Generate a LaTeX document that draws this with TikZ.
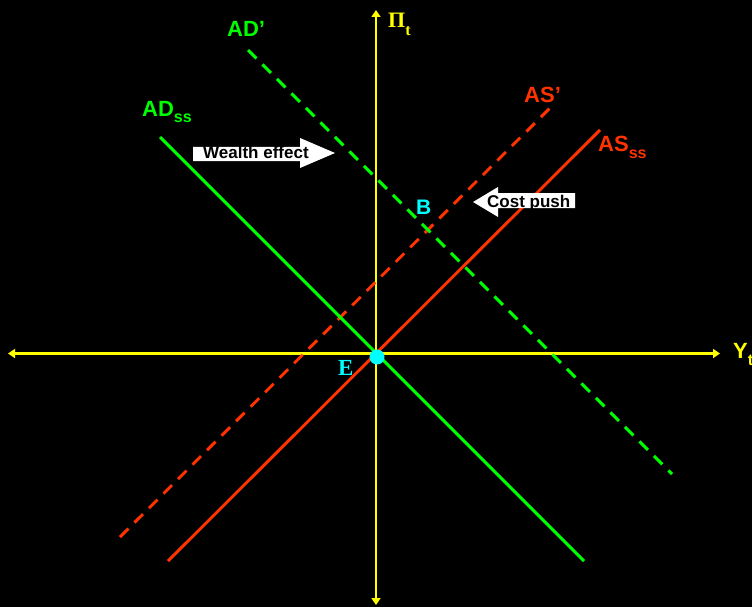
\documentclass[tikz,border=0pt]{standalone}
\usepackage{fontspec}
\setmainfont{Liberation Sans}
\newfontfamily\serifface{Liberation Serif}
\usepackage{xcolor}
\definecolor{adGreen}{HTML}{00FF00}
\definecolor{asRed}{HTML}{FF3300}
\definecolor{axisYellow}{HTML}{FFFF00}
\definecolor{eqCyan}{HTML}{00FFFF}
\usetikzlibrary{arrows.meta}
\tikzset{
    % Axes - yellow, small triangle tips at both ends
    axis/.style={
        draw=axisYellow,
        line width=2.5pt,
        {Triangle[length=7pt, width=9pt]}-{Triangle[length=7pt, width=9pt]},
    },
    % Demand curves
    curve ad/.style={draw=adGreen, line width=2.9pt},
    % Supply curves
    curve as/.style={draw=asRed, line width=2.9pt},
    % Shifted curves are dashed
    shifted/.style={dash pattern=on 12pt off 8.5pt},
    % Curve labels
    curve label/.style={
        font=\bfseries\fontsize{22}{22}\selectfont,
        inner sep=0pt,
        anchor=base west,
    },
    % Text inside the white block arrows
    shift label/.style={
        font=\bfseries\fontsize{17}{17}\selectfont,
        text=black,
        inner sep=0pt,
        anchor=base west,
    },
}
\newcommand{\lowsub}[2]{\raisebox{-#1pt}{\fontsize{16}{16}\selectfont #2}}

\begin{document}
\begin{tikzpicture}[x=1pt, y=-1pt]
    \fill[black] (0,0) rectangle (752,607);
    \useasboundingbox (0,0) rectangle (752,607);

    % end points of the curves
    \coordinate (adss-top) at (160,137);
    \coordinate (adss-bot) at (584,561);
    \coordinate (adnew-top) at (248,50);
    \coordinate (adnew-bot) at (672,474);
    \coordinate (asss-bot) at (168,561);
    \coordinate (asss-top) at (600,130);
    \coordinate (asnew-bot) at (120,537);
    \coordinate (asnew-top) at (550,108);
    \coordinate (xaxis-l) at (8,353.5);
    \coordinate (xaxis-r) at (720,353.5);
    \coordinate (yaxis-b) at (376,605);
    \coordinate (yaxis-t) at (376,10);

    \draw[axis] (xaxis-l) -- (xaxis-r);
    \draw[axis] (yaxis-b) -- (yaxis-t);

    \draw[curve as, shifted] (asnew-bot) -- (asnew-top);
    \draw[curve as] (asss-bot) -- (asss-top);
    \draw[curve ad, shifted] (adnew-top) -- (adnew-bot);
    \draw[curve ad] (adss-top) -- (adss-bot);

    \fill[eqCyan] (377,357) circle (7.5);

    \node (piLabel) [curve label, text=axisYellow] at (388,28)
        {\serifface\bfseries Π\lowsub{8}{t}};
    \node (yLabel) [curve label, text=axisYellow] at (733,358)
        {Y\lowsub{7}{t}};
    \node (adnewLabel) [curve label, text=adGreen] at (227,37) {AD’};
    \node (adssLabel) [curve label, text=adGreen] at (142,117)
        {AD\lowsub{6}{ss}};
    \node (asnewLabel) [curve label, text=asRed] at (524,103) {AS’};
    \node (asssLabel) [curve label, text=asRed] at (598,151)
        {AS\lowsub{7}{ss}};
    \node (bLabel) [curve label, text=eqCyan, font=\bfseries\fontsize{21}{21}\selectfont]
        at (416,214) {B};
    \node (eLabel) [curve label, text=eqCyan, font=\serifface\bfseries\fontsize{23}{23}\selectfont]
        at (338,375) {E};

    % block arrows for the shifts
    \fill[white] (193,147) -- (300,147) -- (300,138) -- (335,153)
        -- (300,168) -- (300,161) -- (193,161) -- cycle;
    \node (wealth) [shift label] at (203,158) {Wealth effect};
    \fill[white] (575,193) -- (498,193) -- (498,187) -- (473,202)
        -- (498,217) -- (498,208) -- (575,208) -- cycle;
    \node (costpush) [shift label] at (487,207) {Cost push};
\end{tikzpicture}
\end{document}
